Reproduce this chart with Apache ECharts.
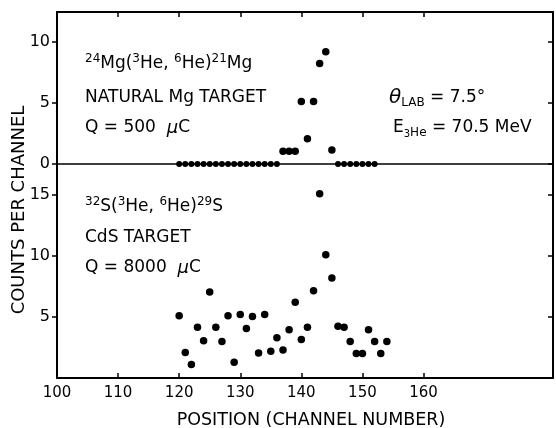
<!DOCTYPE html>
<html><head><meta charset="utf-8">
<script src="https://cdn.jsdelivr.net/npm/echarts@6/dist/echarts.min.js"></script>
<style>html,body{margin:0;padding:0;background:#fff}#c{width:556px;height:428px}</style>
</head><body><div id="c"></div>
<script>
// ---- data ----
const xTickValues = [100, 110, 120, 130, 140, 150, 160];
const mgTickValues = [0, 5, 10];
const sTickValues = [5, 10, 15];
const mgChannels = [120,121,122,123,124,125,126,127,128,129,130,131,132,133,134,135,136,
                    137,138,139,140,141,142,143,144,145,
                    146,147,148,149,150,151,152];
const mgCounts = [0,0,0,0,0,0,0,0,0,0,0,0,0,0,0,0,0,
                  1.05,1.05,1.05,5.1,2.05,5.1,8.2,9.15,1.15,
                  0,0,0,0,0,0,0];
const sChannels = [120,121,122,123,124,125,126,127,128,129,130,131,132,133,134,135,136,137,138,139,
                   140,141,142,143,144,145,146,147,148,149,150,151,152,153,154];
const sCounts = [5.1,2.1,1.1,4.15,3.05,7.05,4.15,3.0,5.1,1.3,5.2,4.05,5.05,2.05,5.2,2.2,3.3,2.3,3.95,6.2,
                 3.15,4.15,7.15,15.1,10.1,8.2,4.25,4.15,3.0,2.0,2.0,3.95,3.0,2.0,3.0];

// ---- chart ----
const FONT = 'DejaVu Sans';
const INK = '#000';
const X_MIN = 100, X_MAX = 181.2;
const mgMax = 12.4, sMax = 17.54;

const chart = echarts.init(document.getElementById('c'), null, {renderer: 'canvas'});
const line = w => ({show: true, onZero: false, lineStyle: {color: INK, width: w}});

const option = {
  animation: false,
  backgroundColor: '#fff',
  grid: [
    {left: 57, right: 3, top: 12, height: 152},
    {left: 57, right: 3, top: 164, height: 214}
  ],
  xAxis: [
    {gridIndex: 0, type: 'value', position: 'bottom', min: X_MIN, max: X_MAX,
     axisLine: line(1.5), axisTick: {show: false}, axisLabel: {show: false}, splitLine: {show: false}},
    {gridIndex: 0, type: 'value', position: 'top', min: X_MIN, max: X_MAX,
     axisLine: line(2), axisTick: {show: true, inside: true, length: 5, customValues: xTickValues, lineStyle: {color: INK, width: 1.5}},
     axisLabel: {show: false}, splitLine: {show: false}},
    {gridIndex: 1, type: 'value', position: 'bottom', min: X_MIN, max: X_MAX,
     axisLine: line(2), axisTick: {show: true, inside: true, length: 5, customValues: xTickValues, lineStyle: {color: INK, width: 1.5}},
     axisLabel: {show: true, customValues: xTickValues, margin: 8, fontFamily: FONT, fontSize: 15, color: INK},
     splitLine: {show: false}}
  ],
  yAxis: [
    {gridIndex: 0, type: 'value', position: 'left', min: 0, max: mgMax,
     axisLine: line(2), axisTick: {show: true, inside: false, length: 5, customValues: mgTickValues, lineStyle: {color: INK, width: 1.5}},
     axisLabel: {show: true, customValues: mgTickValues, margin: 7, fontFamily: FONT, fontSize: 16, color: INK},
     splitLine: {show: false}},
    {gridIndex: 0, type: 'value', position: 'right', min: 0, max: mgMax,
     axisLine: line(2), axisTick: {show: true, inside: true, length: 5, customValues: mgTickValues, lineStyle: {color: INK, width: 1.5}},
     axisLabel: {show: false}, splitLine: {show: false}},
    {gridIndex: 1, type: 'value', position: 'left', min: 0, max: sMax,
     axisLine: line(2), axisTick: {show: true, inside: false, length: 5, customValues: sTickValues, lineStyle: {color: INK, width: 1.5}},
     axisLabel: {show: true, customValues: sTickValues, margin: 7, fontFamily: FONT, fontSize: 16, color: INK},
     splitLine: {show: false}},
    {gridIndex: 1, type: 'value', position: 'right', min: 0, max: sMax,
     axisLine: line(2), axisTick: {show: true, inside: true, length: 5, customValues: sTickValues, lineStyle: {color: INK, width: 1.5}},
     axisLabel: {show: false}, splitLine: {show: false}}
  ],
  series: [
    {type: 'scatter', name: 'Mg', xAxisIndex: 0, yAxisIndex: 0, symbol: 'circle',
     symbolSize: (v) => v[1] === 0 ? 6 : 7.5, itemStyle: {color: INK, opacity: 1},
     data: mgChannels.map((c, i) => [c, mgCounts[i]]), clip: false},
    {type: 'scatter', name: 'S', xAxisIndex: 2, yAxisIndex: 2, symbol: 'circle',
     symbolSize: 7.5, itemStyle: {color: INK, opacity: 1},
     data: sChannels.map((c, i) => [c, sCounts[i]]), clip: false}
  ]
};

const base = {fill: INK, fontFamily: FONT};
const rich = {
  n: {fontSize: 17, lineHeight: 22, fontFamily: FONT, fill: INK},
  mu: {fontSize: 18, lineHeight: 22, fontStyle: 'italic', fontFamily: FONT, fill: INK},
  p: {fontSize: 12, lineHeight: 10, verticalAlign: 'top', fontFamily: FONT, fill: INK},
  sub: {fontSize: 12, lineHeight: 10, verticalAlign: 'bottom', fontFamily: FONT, fill: INK},
  sub3: {fontSize: 10, lineHeight: 17, verticalAlign: 'bottom', fontFamily: FONT, fill: INK},
  th: {fontSize: 20, lineHeight: 22, fontStyle: 'italic', fontFamily: FONT, fill: INK}
};
function txt(x, y, text, extra) {
  return Object.assign({type: 'text', x: x, y: y, silent: true,
    style: Object.assign({text: text, rich: rich, verticalAlign: 'middle', textAlign: 'left'}, base)}, extra || {});
}
option.graphic = [
  txt(85, 64, '{p|24}{n|Mg(}{p|3}{n|He, }{p|6}{n|He)}{p|21}{n|Mg}'),
  txt(85, 98, '{n|NATURAL Mg TARGET}'),
  txt(85, 128, '{n|Q = 500  }{mu|μ}{n|C}'),
  txt(389, 98, '{th|θ}{sub|LAB}{n| = 7.5°}'),
  txt(393, 128, '{n|E}{sub3|3}{sub|He}{n| = 70.5 MeV}'),
  txt(85, 207, '{p|32}{n|S(}{p|3}{n|He, }{p|6}{n|He)}{p|29}{n|S}'),
  txt(85, 238, '{n|CdS TARGET}'),
  txt(85, 268, '{n|Q = 8000  }{mu|μ}{n|C}'),
  {type: 'text', x: 311, y: 420, silent: true,
   style: Object.assign({text: 'POSITION (CHANNEL NUMBER)', fontSize: 17.5, textAlign: 'center', verticalAlign: 'middle'}, base)},
  {type: 'text', x: 19, y: 210, rotation: Math.PI / 2, silent: true,
   style: Object.assign({text: 'COUNTS PER CHANNEL', fontSize: 18, textAlign: 'center', verticalAlign: 'middle'}, base)}
];

chart.setOption(option);
</script>
</body></html>
